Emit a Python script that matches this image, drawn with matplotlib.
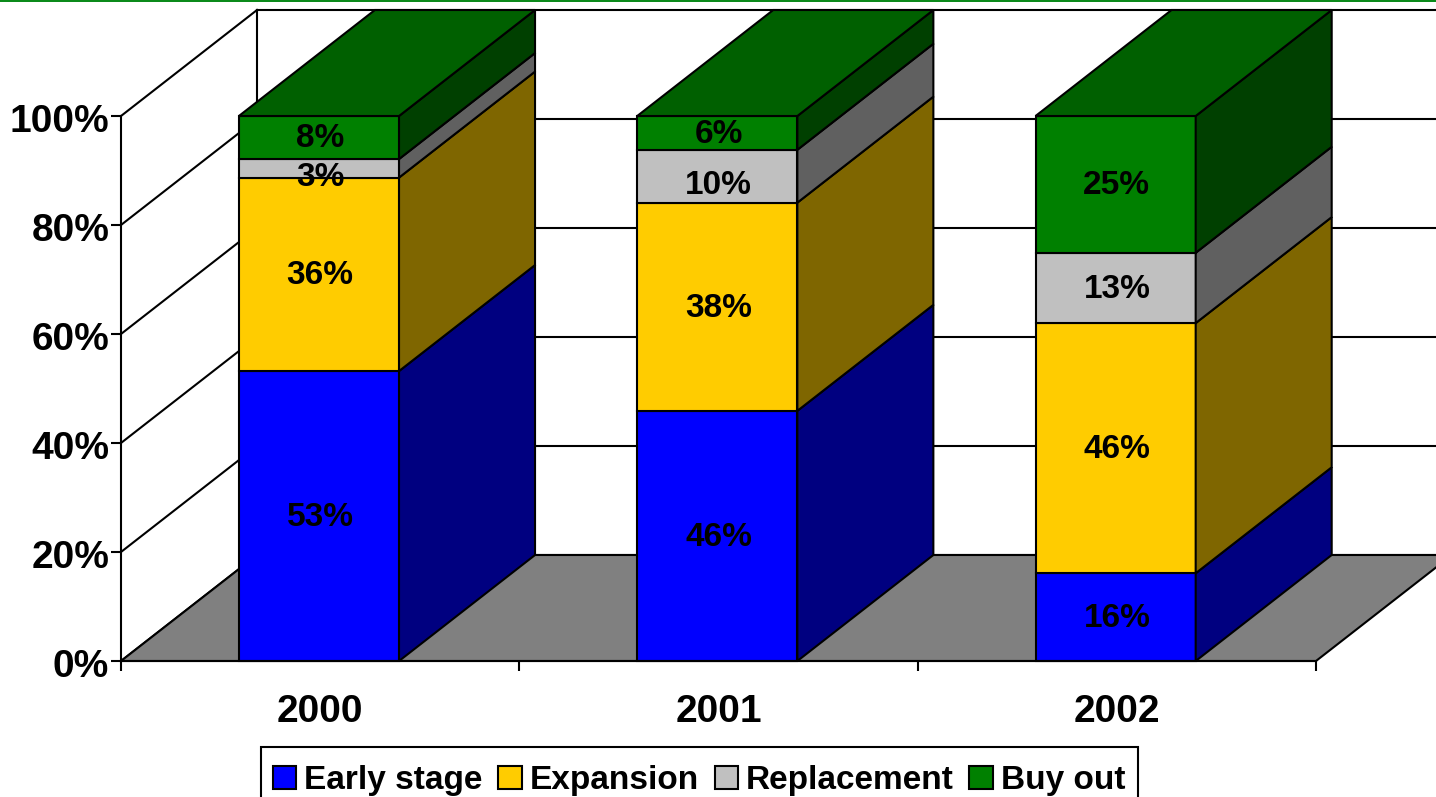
import matplotlib
matplotlib.use("Agg")
import matplotlib.pyplot as plt
from matplotlib.patches import Polygon, Patch, Rectangle
from matplotlib.transforms import ScaledTranslation

plt.rcParams['font.family'] = ['Liberation Sans', 'DejaVu Sans']
plt.rcParams['font.weight'] = 'bold'

# values
years = ['2000', '2001', '2002']
series = ['Early stage', 'Expansion', 'Replacement', 'Buy out']
early_stage = [53.2, 45.9, 16.1]
expansion = [35.5, 38.2, 45.9]
replacement = [3.4, 9.7, 12.9]
buy_out = [7.9, 6.2, 25.1]
y_ticks = [0, 20, 40, 60, 80, 100]

front_colors = ['#0000FF', '#FFCC00', '#C0C0C0', '#008000']
side_colors = ['#000080', '#7F6600', '#606060', '#004000']
top_color = '#006000'
floor_color = '#808080'

W, H = 1436, 797
LW = 1.5
# oblique depth of the fake 3d box, in data units
DX = 136 / 398.33
DY = 106 / 545 * 100
BAR_W = 0.402
BAR_SHIFT = -1.2 / 398.33  # bars sit a touch left of the category centre

fig = plt.figure(figsize=(W / 100, H / 100), dpi=100, facecolor='white')
ax = fig.add_axes([121 / W, 1 - 661 / H, 1195 / W, 545 / H])
ax.patch.set_visible(False)
ax.set_xlim(0, 3)
ax.set_ylim(0, 100)

# strip at the very top of the slide
fig.add_artist(Rectangle((0, 1 - 2 / H), 1, 2 / H, transform=fig.transFigure,
                         facecolor='#0B8A1A', edgecolor='none'))

# back wall and side wall
for v in y_ticks:
    ax.plot([0, DX], [v, v + DY], color='black', lw=LW, clip_on=False, zorder=1)
    ax.plot([DX, 3 + DX], [v + DY, v + DY], color='black', lw=LW, clip_on=False, zorder=1)
ax.plot([DX, DX], [DY, 100 + DY], color='black', lw=LW, clip_on=False, zorder=1)

# floor
ax.add_patch(Polygon([(0, 0), (DX, DY), (3 + DX, DY), (3, 0)], closed=True, facecolor=floor_color,
                     edgecolor='black', lw=LW, clip_on=False, zorder=1.5))

# stacked bars with side and top faces
values = [early_stage, expansion, replacement, buy_out]
z = 2
for i, year in enumerate(years):
    xc = i + 0.5 + BAR_SHIFT
    x0 = xc - BAR_W / 2
    x1 = x0 + BAR_W
    bottom = 0
    for j, name in enumerate(series):
        v = values[j][i]
        ax.bar(xc, v, BAR_W, bottom=bottom, color=front_colors[j], edgecolor='black', lw=LW,
               clip_on=False, zorder=z)
        ax.add_patch(Polygon([(x1, bottom), (x1 + DX, bottom + DY), (x1 + DX, bottom + v + DY), (x1, bottom + v)],
                             closed=True, facecolor=side_colors[j], edgecolor='black', lw=LW,
                             clip_on=False, zorder=z))
        bottom += v
    ax.add_patch(Polygon([(x0, bottom), (x0 + DX, bottom + DY), (x1 + DX, bottom + DY), (x1, bottom)],
                         closed=True, facecolor=top_color, edgecolor='black', lw=LW,
                         clip_on=False, zorder=z))

# data labels
for i, year in enumerate(years):
    bottom = 0
    for j, name in enumerate(series):
        v = values[j][i]
        off = -1
        if j == 2 and v < 11:
            off = -6.5  # narrow grey segments sit low in the original
        ax.annotate('%.0f%%' % v, (i + 0.5, bottom + v / 2), xytext=(0, off), textcoords='offset points',
                    ha='center', va='center', fontsize=24, fontweight='bold', color='black', zorder=10)
        bottom += v

# axes
for s in ['top', 'right']:
    ax.spines[s].set_visible(False)
for s in ['left', 'bottom']:
    ax.spines[s].set_linewidth(LW)
    ax.spines[s].set_zorder(9)
ax.set_yticks(y_ticks)
ax.set_yticklabels(['%d%%' % v for v in y_ticks], fontsize=28, fontweight='bold')
ax.tick_params(axis='y', length=7.5, width=LW, pad=1)
for t in ax.get_yticklabels():
    t.set_transform(t.get_transform() + ScaledTranslation(0, -2 / 100, fig.dpi_scale_trans))
ax.set_xticks([0, 1, 2, 3])
ax.set_xticklabels([])
ax.tick_params(axis='x', which='major', length=7.5, width=LW)
ax.set_xticks([0.5, 1.5, 2.5], minor=True)
ax.set_xticklabels(years, minor=True, fontsize=28, fontweight='bold')
ax.tick_params(axis='x', which='minor', length=0, pad=23.5)

# legend runs off the bottom of the picture, so its frame is drawn apart
fig.add_artist(Rectangle((261 / W, -30 / H), 877 / W, (797 - 747 + 30) / H, transform=fig.transFigure,
                         facecolor='white', edgecolor='black', lw=LW))
handles = [Patch(facecolor=c, edgecolor='black', lw=LW, label=n) for c, n in zip(front_colors, series)]
leg = fig.legend(handles=handles, loc='upper left', bbox_to_anchor=(261 / W, 1 - 753 / H), ncol=4,
                 fontsize=24, frameon=False, borderaxespad=0, borderpad=0.36, handlelength=0.7,
                 handleheight=0.68, handletextpad=0.24, columnspacing=0.47)

fig.savefig('out.png', dpi=100)
